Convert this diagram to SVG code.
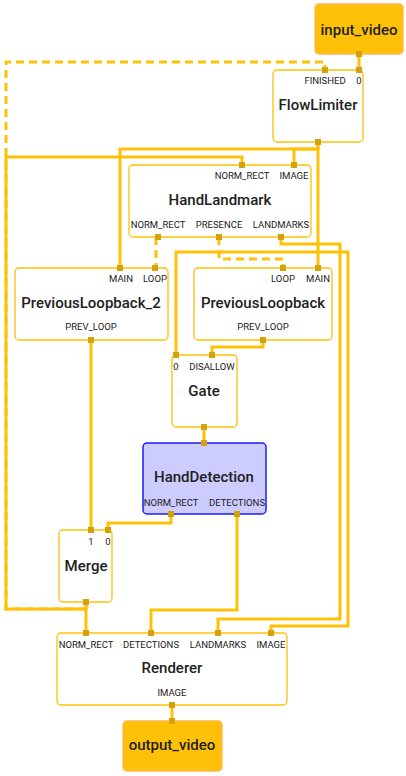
<svg xmlns="http://www.w3.org/2000/svg" width="406" height="776" viewBox="0 0 406 776">
<style>
.e{fill:none;stroke:#FFC107;stroke-width:3;stroke-linejoin:miter}
.d{stroke-dasharray:8,5}
.n{fill:#fff;stroke:#FFC107;stroke-width:1.3}
.io{fill:#FFC107;stroke:#FFB74D;stroke-width:1.3}
.hd{fill:#CCCCFF;stroke:#1A1AFF;stroke-width:1.5}
.p{fill:#D4A20C}
.t{font-family:Roboto,"Liberation Sans",sans-serif;font-size:15px;font-weight:500;fill:#212121;text-anchor:middle}
.l{font-family:Roboto,"Liberation Sans",sans-serif;font-size:9.5px;fill:#212121;text-anchor:middle}
</style>
<rect width="406" height="776" fill="#fff"/>
<g id="connectors">
<polyline class="e" points="359,54 359,70"/>
<polyline class="e" points="318,142 318,149 294,149 294,165"/>
<polyline class="e" points="318,149 120,149 120,268"/>
<polyline class="e" points="318,142 318,268"/>
<polyline class="e" points="318,252 176,252 176,355"/>
<polyline class="e" points="318,252 348,252 348,626 271,626 271,633"/>
<polyline class="e" points="86,602 86,609 6,609 6,157 242,157 242,165"/>
<polyline class="e" points="86,602 86,633"/>
<polyline class="e d" points="86,609 6,609 6,62 325,62 325,70"/>
<polyline class="e d" points="156,237 156,268"/>
<polyline class="e d" points="219,237 219,259 283,259 283,268"/>
<polyline class="e" points="281,237 281,244 340,244 340,619 218,619 218,633"/>
<polyline class="e" points="263,340 263,347 212,347 212,355"/>
<polyline class="e" points="204,427 204,443"/>
<polyline class="e" points="171,514 171,523 108,523 108,530"/>
<polyline class="e" points="91,340 91,530"/>
<polyline class="e" points="237,514 237,610 151,610 151,633"/>
<polyline class="e" points="172,705 172,721"/>
</g>
<g id="input_video">
<rect class="io" x="315" y="4" width="88" height="50" rx="4"/>
<text class="t" x="359" y="35">input_video</text>
<rect class="p" x="356" y="51" width="6" height="6"/>
</g>
<g id="FlowLimiter">
<rect class="n" x="273" y="70" width="90" height="72" rx="4"/>
<text class="l" x="325" y="84">FINISHED</text>
<text class="l" x="359" y="84">0</text>
<text class="t" x="318" y="110">FlowLimiter</text>
<rect class="p" x="322" y="67" width="6" height="6"/>
<rect class="p" x="356" y="67" width="6" height="6"/>
<rect class="p" x="315" y="139" width="6" height="6"/>
</g>
<g id="HandLandmark">
<rect class="n" x="129" y="165" width="182" height="72" rx="4"/>
<text class="l" x="242" y="179">NORM_RECT</text>
<text class="l" x="294" y="179">IMAGE</text>
<text class="t" x="220" y="205">HandLandmark</text>
<text class="l" x="158" y="228">NORM_RECT</text>
<text class="l" x="219" y="228">PRESENCE</text>
<text class="l" x="281" y="228">LANDMARKS</text>
<rect class="p" x="239" y="162" width="6" height="6"/>
<rect class="p" x="291" y="162" width="6" height="6"/>
<rect class="p" x="155" y="234" width="6" height="6"/>
<rect class="p" x="216" y="234" width="6" height="6"/>
<rect class="p" x="278" y="234" width="6" height="6"/>
</g>
<g id="PreviousLoopback_2">
<rect class="n" x="15" y="268" width="153" height="72" rx="4"/>
<text class="l" x="121" y="282">MAIN</text>
<text class="l" x="155" y="282">LOOP</text>
<text class="t" x="91" y="308">PreviousLoopback_2</text>
<text class="l" x="91" y="330">PREV_LOOP</text>
<rect class="p" x="117" y="265" width="6" height="6"/>
<rect class="p" x="152" y="265" width="6" height="6"/>
<rect class="p" x="88" y="337" width="6" height="6"/>
</g>
<g id="PreviousLoopback">
<rect class="n" x="194" y="268" width="138" height="72" rx="4"/>
<text class="l" x="283" y="282">LOOP</text>
<text class="l" x="318" y="282">MAIN</text>
<text class="t" x="263" y="308">PreviousLoopback</text>
<text class="l" x="263" y="330">PREV_LOOP</text>
<rect class="p" x="280" y="265" width="6" height="6"/>
<rect class="p" x="315" y="265" width="6" height="6"/>
<rect class="p" x="260" y="337" width="6" height="6"/>
</g>
<g id="Gate">
<rect class="n" x="172" y="355" width="65" height="72" rx="4"/>
<text class="l" x="176" y="370">0</text>
<text class="l" x="212" y="370">DISALLOW</text>
<text class="t" x="204" y="396">Gate</text>
<rect class="p" x="173" y="352" width="6" height="6"/>
<rect class="p" x="209" y="352" width="6" height="6"/>
<rect class="p" x="201" y="424" width="6" height="6"/>
</g>
<g id="HandDetection">
<rect class="hd" x="143" y="443" width="123" height="71" rx="4"/>
<text class="t" x="204" y="482">HandDetection</text>
<text class="l" x="171" y="506">NORM_RECT</text>
<text class="l" x="237" y="506">DETECTIONS</text>
<rect class="p" x="201" y="440" width="6" height="6"/>
<rect class="p" x="168" y="511" width="6" height="6"/>
<rect class="p" x="234" y="511" width="6" height="6"/>
</g>
<g id="Merge">
<rect class="n" x="59" y="530" width="53" height="72" rx="4"/>
<text class="l" x="91" y="545">1</text>
<text class="l" x="108" y="545">0</text>
<text class="t" x="86" y="571">Merge</text>
<rect class="p" x="88" y="527" width="6" height="6"/>
<rect class="p" x="105" y="527" width="6" height="6"/>
<rect class="p" x="83" y="599" width="6" height="6"/>
</g>
<g id="Renderer">
<rect class="n" x="57" y="633" width="230" height="72" rx="4"/>
<text class="l" x="86" y="648">NORM_RECT</text>
<text class="l" x="151" y="648">DETECTIONS</text>
<text class="l" x="218" y="648">LANDMARKS</text>
<text class="l" x="271" y="648">IMAGE</text>
<text class="t" x="172" y="673">Renderer</text>
<text class="l" x="172" y="696">IMAGE</text>
<rect class="p" x="83" y="630" width="6" height="6"/>
<rect class="p" x="148" y="630" width="6" height="6"/>
<rect class="p" x="215" y="630" width="6" height="6"/>
<rect class="p" x="268" y="630" width="6" height="6"/>
<rect class="p" x="169" y="702" width="6" height="6"/>
</g>
<g id="output_video">
<rect class="io" x="123" y="721" width="99" height="50" rx="4"/>
<text class="t" x="172" y="750">output_video</text>
<rect class="p" x="169" y="718" width="6" height="6"/>
</g>
</svg>
